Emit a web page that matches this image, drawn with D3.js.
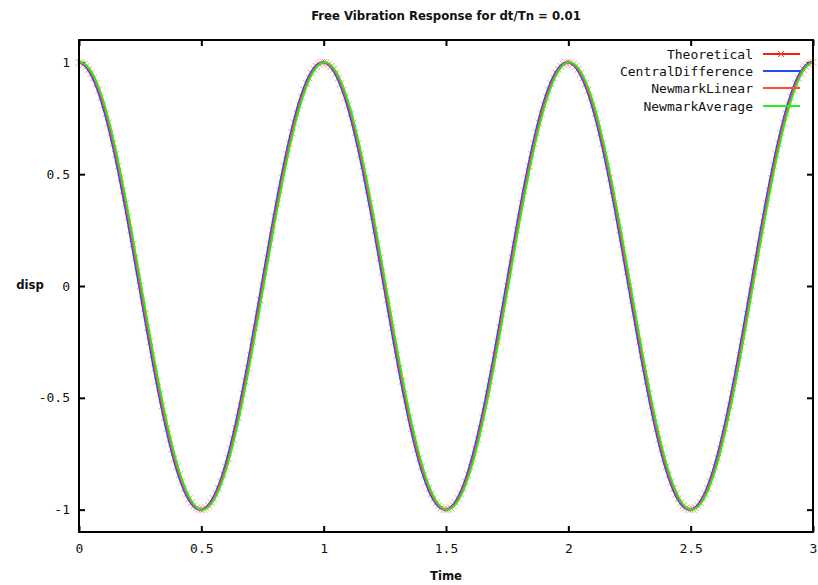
<!DOCTYPE html>
<html><head><meta charset="utf-8">
<script src="https://cdn.jsdelivr.net/npm/d3@7"></script>
<style>body{margin:0;background:#fff}svg{display:block}</style>
</head><body><svg id="c" width="818" height="585"></svg>
<script>
const title = "Free Vibration Response for dt/Tn = 0.01";
const xLabel = "Time";
const yLabel = "disp";
const seriesNames = ["Theoretical","CentralDifference","NewmarkLinear","NewmarkAverage"];
const xTicks = [0,0.5,1,1.5,2,2.5,3];
const yTicks = [-1,-0.5,0,0.5,1];

const time = [
0,0.01,0.02,0.03,0.04,0.05,0.06,0.07,0.08,0.09,
0.1,0.11,0.12,0.13,0.14,0.15,0.16,0.17,0.18,0.19,
0.2,0.21,0.22,0.23,0.24,0.25,0.26,0.27,0.28,0.29,
0.3,0.31,0.32,0.33,0.34,0.35,0.36,0.37,0.38,0.39,
0.4,0.41,0.42,0.43,0.44,0.45,0.46,0.47,0.48,0.49,
0.5,0.51,0.52,0.53,0.54,0.55,0.56,0.57,0.58,0.59,
0.6,0.61,0.62,0.63,0.64,0.65,0.66,0.67,0.68,0.69,
0.7,0.71,0.72,0.73,0.74,0.75,0.76,0.77,0.78,0.79,
0.8,0.81,0.82,0.83,0.84,0.85,0.86,0.87,0.88,0.89,
0.9,0.91,0.92,0.93,0.94,0.95,0.96,0.97,0.98,0.99,
1,1.01,1.02,1.03,1.04,1.05,1.06,1.07,1.08,1.09,
1.1,1.11,1.12,1.13,1.14,1.15,1.16,1.17,1.18,1.19,
1.2,1.21,1.22,1.23,1.24,1.25,1.26,1.27,1.28,1.29,
1.3,1.31,1.32,1.33,1.34,1.35,1.36,1.37,1.38,1.39,
1.4,1.41,1.42,1.43,1.44,1.45,1.46,1.47,1.48,1.49,
1.5,1.51,1.52,1.53,1.54,1.55,1.56,1.57,1.58,1.59,
1.6,1.61,1.62,1.63,1.64,1.65,1.66,1.67,1.68,1.69,
1.7,1.71,1.72,1.73,1.74,1.75,1.76,1.77,1.78,1.79,
1.8,1.81,1.82,1.83,1.84,1.85,1.86,1.87,1.88,1.89,
1.9,1.91,1.92,1.93,1.94,1.95,1.96,1.97,1.98,1.99,
2,2.01,2.02,2.03,2.04,2.05,2.06,2.07,2.08,2.09,
2.1,2.11,2.12,2.13,2.14,2.15,2.16,2.17,2.18,2.19,
2.2,2.21,2.22,2.23,2.24,2.25,2.26,2.27,2.28,2.29,
2.3,2.31,2.32,2.33,2.34,2.35,2.36,2.37,2.38,2.39,
2.4,2.41,2.42,2.43,2.44,2.45,2.46,2.47,2.48,2.49,
2.5,2.51,2.52,2.53,2.54,2.55,2.56,2.57,2.58,2.59,
2.6,2.61,2.62,2.63,2.64,2.65,2.66,2.67,2.68,2.69,
2.7,2.71,2.72,2.73,2.74,2.75,2.76,2.77,2.78,2.79,
2.8,2.81,2.82,2.83,2.84,2.85,2.86,2.87,2.88,2.89,
2.9,2.91,2.92,2.93,2.94,2.95,2.96,2.97,2.98,2.99,
3];

const theoretical = [
1.000,0.998,0.992,0.982,0.969,0.951,0.930,0.905,0.876,0.844,
0.809,0.771,0.729,0.685,0.637,0.588,0.536,0.482,0.426,0.368,
0.309,0.249,0.187,0.125,0.063,0.000,-0.063,-0.125,-0.187,-0.249,
-0.309,-0.368,-0.426,-0.482,-0.536,-0.588,-0.637,-0.685,-0.729,-0.771,
-0.809,-0.844,-0.876,-0.905,-0.930,-0.951,-0.969,-0.982,-0.992,-0.998,
-1.000,-0.998,-0.992,-0.982,-0.969,-0.951,-0.930,-0.905,-0.876,-0.844,
-0.809,-0.771,-0.729,-0.685,-0.637,-0.588,-0.536,-0.482,-0.426,-0.368,
-0.309,-0.249,-0.187,-0.125,-0.063,0.000,0.063,0.125,0.187,0.249,
0.309,0.368,0.426,0.482,0.536,0.588,0.637,0.685,0.729,0.771,
0.809,0.844,0.876,0.905,0.930,0.951,0.969,0.982,0.992,0.998,
1.000,0.998,0.992,0.982,0.969,0.951,0.930,0.905,0.876,0.844,
0.809,0.771,0.729,0.685,0.637,0.588,0.536,0.482,0.426,0.368,
0.309,0.249,0.187,0.125,0.063,0.000,-0.063,-0.125,-0.187,-0.249,
-0.309,-0.368,-0.426,-0.482,-0.536,-0.588,-0.637,-0.685,-0.729,-0.771,
-0.809,-0.844,-0.876,-0.905,-0.930,-0.951,-0.969,-0.982,-0.992,-0.998,
-1.000,-0.998,-0.992,-0.982,-0.969,-0.951,-0.930,-0.905,-0.876,-0.844,
-0.809,-0.771,-0.729,-0.685,-0.637,-0.588,-0.536,-0.482,-0.426,-0.368,
-0.309,-0.249,-0.187,-0.125,-0.063,0.000,0.063,0.125,0.187,0.249,
0.309,0.368,0.426,0.482,0.536,0.588,0.637,0.685,0.729,0.771,
0.809,0.844,0.876,0.905,0.930,0.951,0.969,0.982,0.992,0.998,
1.000,0.998,0.992,0.982,0.969,0.951,0.930,0.905,0.876,0.844,
0.809,0.771,0.729,0.685,0.637,0.588,0.536,0.482,0.426,0.368,
0.309,0.249,0.187,0.125,0.063,0.000,-0.063,-0.125,-0.187,-0.249,
-0.309,-0.368,-0.426,-0.482,-0.536,-0.588,-0.637,-0.685,-0.729,-0.771,
-0.809,-0.844,-0.876,-0.905,-0.930,-0.951,-0.969,-0.982,-0.992,-0.998,
-1.000,-0.998,-0.992,-0.982,-0.969,-0.951,-0.930,-0.905,-0.876,-0.844,
-0.809,-0.771,-0.729,-0.685,-0.637,-0.588,-0.536,-0.482,-0.426,-0.368,
-0.309,-0.249,-0.187,-0.125,-0.063,0.000,0.063,0.125,0.187,0.249,
0.309,0.368,0.426,0.482,0.536,0.588,0.637,0.685,0.729,0.771,
0.809,0.844,0.876,0.905,0.930,0.951,0.969,0.982,0.992,0.998,
1.000];

const centralDifference = [
1.000,0.996,0.988,0.976,0.960,0.941,0.918,0.891,0.861,0.827,
0.790,0.750,0.707,0.661,0.613,0.562,0.509,0.454,0.397,0.339,
0.279,0.218,0.156,0.094,0.031,-0.031,-0.094,-0.156,-0.218,-0.279,
-0.339,-0.397,-0.454,-0.509,-0.562,-0.613,-0.661,-0.707,-0.750,-0.790,
-0.827,-0.861,-0.891,-0.918,-0.941,-0.960,-0.976,-0.988,-0.996,-1.000,
-1.000,-0.996,-0.988,-0.976,-0.960,-0.941,-0.918,-0.891,-0.861,-0.827,
-0.790,-0.750,-0.707,-0.661,-0.613,-0.562,-0.509,-0.454,-0.397,-0.339,
-0.279,-0.218,-0.156,-0.094,-0.031,0.031,0.094,0.156,0.218,0.279,
0.339,0.397,0.454,0.509,0.562,0.613,0.661,0.707,0.750,0.790,
0.827,0.861,0.891,0.918,0.941,0.960,0.976,0.988,0.996,1.000,
1.000,0.996,0.988,0.976,0.960,0.941,0.918,0.891,0.861,0.827,
0.790,0.750,0.707,0.661,0.613,0.562,0.509,0.454,0.397,0.339,
0.279,0.218,0.156,0.094,0.031,-0.031,-0.094,-0.156,-0.218,-0.279,
-0.339,-0.397,-0.454,-0.509,-0.562,-0.613,-0.661,-0.707,-0.750,-0.790,
-0.827,-0.861,-0.891,-0.918,-0.941,-0.960,-0.976,-0.988,-0.996,-1.000,
-1.000,-0.996,-0.988,-0.976,-0.960,-0.941,-0.918,-0.891,-0.861,-0.827,
-0.790,-0.750,-0.707,-0.661,-0.613,-0.562,-0.509,-0.454,-0.397,-0.339,
-0.279,-0.218,-0.156,-0.094,-0.031,0.031,0.094,0.156,0.218,0.279,
0.339,0.397,0.454,0.509,0.562,0.613,0.661,0.707,0.750,0.790,
0.827,0.861,0.891,0.918,0.941,0.960,0.976,0.988,0.996,1.000,
1.000,0.996,0.988,0.976,0.960,0.941,0.918,0.891,0.861,0.827,
0.790,0.750,0.707,0.661,0.613,0.562,0.509,0.454,0.397,0.339,
0.279,0.218,0.156,0.094,0.031,-0.031,-0.094,-0.156,-0.218,-0.279,
-0.339,-0.397,-0.454,-0.509,-0.562,-0.613,-0.661,-0.707,-0.750,-0.790,
-0.827,-0.861,-0.891,-0.918,-0.941,-0.960,-0.976,-0.988,-0.996,-1.000,
-1.000,-0.996,-0.988,-0.976,-0.960,-0.941,-0.918,-0.891,-0.861,-0.827,
-0.790,-0.750,-0.707,-0.661,-0.613,-0.562,-0.509,-0.454,-0.397,-0.339,
-0.279,-0.218,-0.156,-0.094,-0.031,0.031,0.094,0.156,0.218,0.279,
0.339,0.397,0.454,0.509,0.562,0.613,0.661,0.707,0.750,0.790,
0.827,0.861,0.891,0.918,0.941,0.960,0.976,0.988,0.996,1.000,
1.000];

const newmarkLinear = [
1.000,0.998,0.992,0.982,0.969,0.951,0.930,0.905,0.876,0.844,
0.809,0.771,0.729,0.685,0.637,0.588,0.536,0.482,0.426,0.368,
0.309,0.249,0.187,0.125,0.063,0.000,-0.063,-0.125,-0.187,-0.249,
-0.309,-0.368,-0.426,-0.482,-0.536,-0.588,-0.637,-0.685,-0.729,-0.771,
-0.809,-0.844,-0.876,-0.905,-0.930,-0.951,-0.969,-0.982,-0.992,-0.998,
-1.000,-0.998,-0.992,-0.982,-0.969,-0.951,-0.930,-0.905,-0.876,-0.844,
-0.809,-0.771,-0.729,-0.685,-0.637,-0.588,-0.536,-0.482,-0.426,-0.368,
-0.309,-0.249,-0.187,-0.125,-0.063,0.000,0.063,0.125,0.187,0.249,
0.309,0.368,0.426,0.482,0.536,0.588,0.637,0.685,0.729,0.771,
0.809,0.844,0.876,0.905,0.930,0.951,0.969,0.982,0.992,0.998,
1.000,0.998,0.992,0.982,0.969,0.951,0.930,0.905,0.876,0.844,
0.809,0.771,0.729,0.685,0.637,0.588,0.536,0.482,0.426,0.368,
0.309,0.249,0.187,0.125,0.063,0.000,-0.063,-0.125,-0.187,-0.249,
-0.309,-0.368,-0.426,-0.482,-0.536,-0.588,-0.637,-0.685,-0.729,-0.771,
-0.809,-0.844,-0.876,-0.905,-0.930,-0.951,-0.969,-0.982,-0.992,-0.998,
-1.000,-0.998,-0.992,-0.982,-0.969,-0.951,-0.930,-0.905,-0.876,-0.844,
-0.809,-0.771,-0.729,-0.685,-0.637,-0.588,-0.536,-0.482,-0.426,-0.368,
-0.309,-0.249,-0.187,-0.125,-0.063,0.000,0.063,0.125,0.187,0.249,
0.309,0.368,0.426,0.482,0.536,0.588,0.637,0.685,0.729,0.771,
0.809,0.844,0.876,0.905,0.930,0.951,0.969,0.982,0.992,0.998,
1.000,0.998,0.992,0.982,0.969,0.951,0.930,0.905,0.876,0.844,
0.809,0.771,0.729,0.685,0.637,0.588,0.536,0.482,0.426,0.368,
0.309,0.249,0.187,0.125,0.063,0.000,-0.063,-0.125,-0.187,-0.249,
-0.309,-0.368,-0.426,-0.482,-0.536,-0.588,-0.637,-0.685,-0.729,-0.771,
-0.809,-0.844,-0.876,-0.905,-0.930,-0.951,-0.969,-0.982,-0.992,-0.998,
-1.000,-0.998,-0.992,-0.982,-0.969,-0.951,-0.930,-0.905,-0.876,-0.844,
-0.809,-0.771,-0.729,-0.685,-0.637,-0.588,-0.536,-0.482,-0.426,-0.368,
-0.309,-0.249,-0.187,-0.125,-0.063,0.000,0.063,0.125,0.187,0.249,
0.309,0.368,0.426,0.482,0.536,0.588,0.637,0.685,0.729,0.771,
0.809,0.844,0.876,0.905,0.930,0.951,0.969,0.982,0.992,0.998,
1.000];

const newmarkAverage = [
1.000,1.000,0.996,0.988,0.976,0.960,0.941,0.918,0.891,0.861,
0.827,0.790,0.750,0.707,0.661,0.613,0.562,0.509,0.454,0.397,
0.339,0.279,0.218,0.156,0.094,0.031,-0.031,-0.094,-0.156,-0.218,
-0.279,-0.339,-0.397,-0.454,-0.509,-0.562,-0.613,-0.661,-0.707,-0.750,
-0.790,-0.827,-0.861,-0.891,-0.918,-0.941,-0.960,-0.976,-0.988,-0.996,
-1.000,-1.000,-0.996,-0.988,-0.976,-0.960,-0.941,-0.918,-0.891,-0.861,
-0.827,-0.790,-0.750,-0.707,-0.661,-0.613,-0.562,-0.509,-0.454,-0.397,
-0.339,-0.279,-0.218,-0.156,-0.094,-0.031,0.031,0.094,0.156,0.218,
0.279,0.339,0.397,0.454,0.509,0.562,0.613,0.661,0.707,0.750,
0.790,0.827,0.861,0.891,0.918,0.941,0.960,0.976,0.988,0.996,
1.000,1.000,0.996,0.988,0.976,0.960,0.941,0.918,0.891,0.861,
0.827,0.790,0.750,0.707,0.661,0.613,0.562,0.509,0.454,0.397,
0.339,0.279,0.218,0.156,0.094,0.031,-0.031,-0.094,-0.156,-0.218,
-0.279,-0.339,-0.397,-0.454,-0.509,-0.562,-0.613,-0.661,-0.707,-0.750,
-0.790,-0.827,-0.861,-0.891,-0.918,-0.941,-0.960,-0.976,-0.988,-0.996,
-1.000,-1.000,-0.996,-0.988,-0.976,-0.960,-0.941,-0.918,-0.891,-0.861,
-0.827,-0.790,-0.750,-0.707,-0.661,-0.613,-0.562,-0.509,-0.454,-0.397,
-0.339,-0.279,-0.218,-0.156,-0.094,-0.031,0.031,0.094,0.156,0.218,
0.279,0.339,0.397,0.454,0.509,0.562,0.613,0.661,0.707,0.750,
0.790,0.827,0.861,0.891,0.918,0.941,0.960,0.976,0.988,0.996,
1.000,1.000,0.996,0.988,0.976,0.960,0.941,0.918,0.891,0.861,
0.827,0.790,0.750,0.707,0.661,0.613,0.562,0.509,0.454,0.397,
0.339,0.279,0.218,0.156,0.094,0.031,-0.031,-0.094,-0.156,-0.218,
-0.279,-0.339,-0.397,-0.454,-0.509,-0.562,-0.613,-0.661,-0.707,-0.750,
-0.790,-0.827,-0.861,-0.891,-0.918,-0.941,-0.960,-0.976,-0.988,-0.996,
-1.000,-1.000,-0.996,-0.988,-0.976,-0.960,-0.941,-0.918,-0.891,-0.861,
-0.827,-0.790,-0.750,-0.707,-0.661,-0.613,-0.562,-0.509,-0.454,-0.397,
-0.339,-0.279,-0.218,-0.156,-0.094,-0.031,0.031,0.094,0.156,0.218,
0.279,0.339,0.397,0.454,0.509,0.562,0.613,0.661,0.707,0.750,
0.790,0.827,0.861,0.891,0.918,0.941,0.960,0.976,0.988,0.996,
1.000];

const seriesValues = [theoretical, centralDifference, newmarkLinear, newmarkAverage];
const seriesColors = ["#ff1a0d", "#1f4cff", "#ff4d33", "#22ee22"];

const L = 79, R = 813, T = 40, B = 532;
const svg = d3.select("#c");
const x = d3.scaleLinear().domain([0, 3]).range([L, R]);
const y = d3.scaleLinear().domain([-1.1, 1.1]).range([B, T]);
const mono = "'DejaVu Sans Mono', 'Liberation Mono', monospace";
const cond = "'DejaVu Sans Condensed', 'Liberation Sans Narrow', 'DejaVu Sans', sans-serif";

svg.append("rect").attr("width", 818).attr("height", 585).attr("fill", "#fff");

// axes
const fmt = d => d3.format("")(d).replace("−", "-");
const gB = svg.append("g").attr("transform", `translate(0,${B})`)
  .call(d3.axisBottom(x).tickValues(xTicks).tickSize(-6).tickPadding(12).tickFormat(fmt));
const gL = svg.append("g").attr("transform", `translate(${L},0)`)
  .call(d3.axisLeft(y).tickValues(yTicks).tickSize(-6).tickPadding(9).tickFormat(fmt));
const gT = svg.append("g").attr("transform", `translate(0,${T})`)
  .call(d3.axisTop(x).tickValues(xTicks).tickSize(-6).tickFormat(""));
const gR = svg.append("g").attr("transform", `translate(${R},0)`)
  .call(d3.axisRight(y).tickValues(yTicks).tickSize(-6).tickFormat(""));
[gB, gL, gT, gR].forEach(g => {
  g.select(".domain").remove();
  g.selectAll(".tick line").attr("stroke", "#000").attr("stroke-width", 2);
  g.selectAll("text").attr("font-family", mono).attr("font-size", 13).attr("fill", "#111");
});

// curves
const line = d3.line().x((d, i) => x(time[i])).y(d => y(d));
const marker = "M-3.5,-3.5L3.5,3.5M-3.5,3.5L3.5,-3.5";
const plot = svg.append("g");
seriesValues.forEach((vals, si) => {
  plot.append("path").datum(vals).attr("d", line)
    .attr("fill", "none").attr("stroke", seriesColors[si]).attr("stroke-width", 1.8)
    .attr("stroke-linejoin", "round");
  if (si === 0) {
    plot.append("g").selectAll("path").data(vals).join("path")
      .attr("d", marker)
      .attr("transform", (d, i) => `translate(${x(time[i])},${y(d)})`)
      .attr("stroke", "#ff3a2a").attr("stroke-opacity", 0.55).attr("stroke-width", 1).attr("fill", "none");
  }
});

// frame
svg.append("rect").attr("x", L).attr("y", T).attr("width", R - L).attr("height", B - T)
  .attr("fill", "none").attr("stroke", "#000").attr("stroke-width", 2);

// legend
const legRows = [54, 71, 88, 106];
seriesNames.forEach((name, i) => {
  svg.append("text").attr("x", 753).attr("y", legRows[i]).attr("dy", "0.35em")
    .attr("text-anchor", "end").attr("font-family", mono).attr("font-size", 13)
    .attr("fill", "#111").text(name);
  svg.append("line").attr("x1", 763).attr("x2", 800).attr("y1", legRows[i]).attr("y2", legRows[i])
    .attr("stroke", seriesColors[i]).attr("stroke-width", 1.8);
  if (i === 0) {
    svg.append("path").attr("d", "M-3,-3L3,3M-3,3L3,-3").attr("transform", `translate(781,${legRows[i]})`)
      .attr("stroke", "#ff3a2a").attr("stroke-width", 1).attr("fill", "none");
  }
});

// titles
svg.append("text").attr("x", 446).attr("y", 20).attr("text-anchor", "middle")
  .attr("font-family", cond).attr("font-weight", "bold").attr("font-size", 13)
  .attr("fill", "#111").text(title);
svg.append("text").attr("x", 446).attr("y", 580).attr("text-anchor", "middle")
  .attr("font-family", cond).attr("font-weight", "bold").attr("font-size", 13)
  .attr("fill", "#111").text(xLabel);
svg.append("text").attr("x", 30).attr("y", 289).attr("text-anchor", "middle")
  .attr("font-family", cond).attr("font-weight", "bold").attr("font-size", 13)
  .attr("fill", "#111").text(yLabel);
</script></body></html>
